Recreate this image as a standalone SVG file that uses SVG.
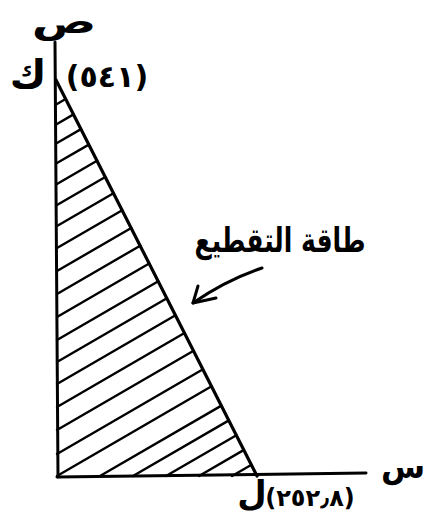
<svg xmlns="http://www.w3.org/2000/svg" width="428" height="522" viewBox="0 0 428 522">
  <style>
    .axis { stroke: #000; stroke-width: 3; fill: none; stroke-linecap: round; }
    .edge { stroke: #000; stroke-width: 3.2; fill: none; stroke-linecap: round; }
    .hatch line { stroke: #000; stroke-width: 2.4; stroke-linecap: round; }
    .lbl { font-family: "DejaVu Sans", sans-serif; font-weight: bold; fill: #000; }
    .arrow { stroke: #000; stroke-width: 3; fill: none; stroke-linecap: round; stroke-linejoin: round; }
  </style>
  <rect width="428" height="522" fill="#fff"/>

  <g id="axes">
    <line class="axis" x1="55" y1="42" x2="58" y2="477"/>
    <line class="axis" x1="57" y1="477" x2="366" y2="473"/>
  </g>

  <g id="region">
    <line class="edge" x1="56" y1="80" x2="257" y2="476"/>
    <g class="hatch">
      <line x1="57" y1="104" x2="65.6" y2="99"/>
      <line x1="57" y1="124" x2="73.5" y2="114.4"/>
      <line x1="57" y1="143" x2="81" y2="129.1"/>
      <line x1="57" y1="163" x2="88.8" y2="144.6"/>
      <line x1="57" y1="184" x2="97" y2="160.8"/>
      <line x1="57" y1="205" x2="105.3" y2="177"/>
      <line x1="57" y1="226" x2="113.5" y2="193.2"/>
      <line x1="57" y1="248" x2="122.2" y2="210.2"/>
      <line x1="57" y1="271" x2="131.2" y2="228"/>
      <line x1="57" y1="294" x2="140.2" y2="245.7"/>
      <line x1="57" y1="317" x2="149.2" y2="263.5"/>
      <line x1="57" y1="340" x2="158.3" y2="281.3"/>
      <line x1="57" y1="362" x2="166.9" y2="298.3"/>
      <line x1="57" y1="384" x2="175.5" y2="315.3"/>
      <line x1="57" y1="407" x2="184.5" y2="333"/>
      <line x1="57" y1="430" x2="193.6" y2="350.8"/>
      <line x1="57" y1="454" x2="203" y2="369.3"/>
      <line x1="57" y1="476" x2="211.6" y2="386.3"/>
      <line x1="100" y1="476" x2="221.4" y2="405.6"/>
      <line x1="133" y1="476" x2="228.9" y2="420.4"/>
      <line x1="166" y1="476" x2="236.4" y2="435.2"/>
      <line x1="199" y1="476" x2="244" y2="449.9"/>
      <line x1="232" y1="476" x2="251.5" y2="464.7"/>
    </g>
  </g>

  <g id="label-region">
    <text class="lbl" font-size="25" text-anchor="middle" transform="translate(280,252) scale(1,1.35)">طاقة التقطيع</text>
    <path class="arrow" d="M262,268 Q226,280 193,303"/>
    <path class="arrow" d="M198,286 L193,303 L216,298"/>
  </g>

  <g id="label-y">
    <text class="lbl" font-size="32" text-anchor="middle" transform="translate(64,33) scale(1.5,1)">ص</text>
  </g>
  <g id="label-x">
    <text class="lbl" x="403" y="478" font-size="32" text-anchor="middle">س</text>
  </g>
  <g id="point-k">
    <text class="lbl" x="28" y="88" font-size="40" text-anchor="middle">ك</text>
    <text class="lbl" x="107" y="87" font-size="30" text-anchor="middle">(٥٤١)</text>
  </g>
  <g id="point-l">
    <text class="lbl" x="252" y="505" font-size="34" text-anchor="middle">ل</text>
    <text class="lbl" x="310" y="506" font-size="24" text-anchor="middle">(٢٥٢٫٨)</text>
  </g>
</svg>
